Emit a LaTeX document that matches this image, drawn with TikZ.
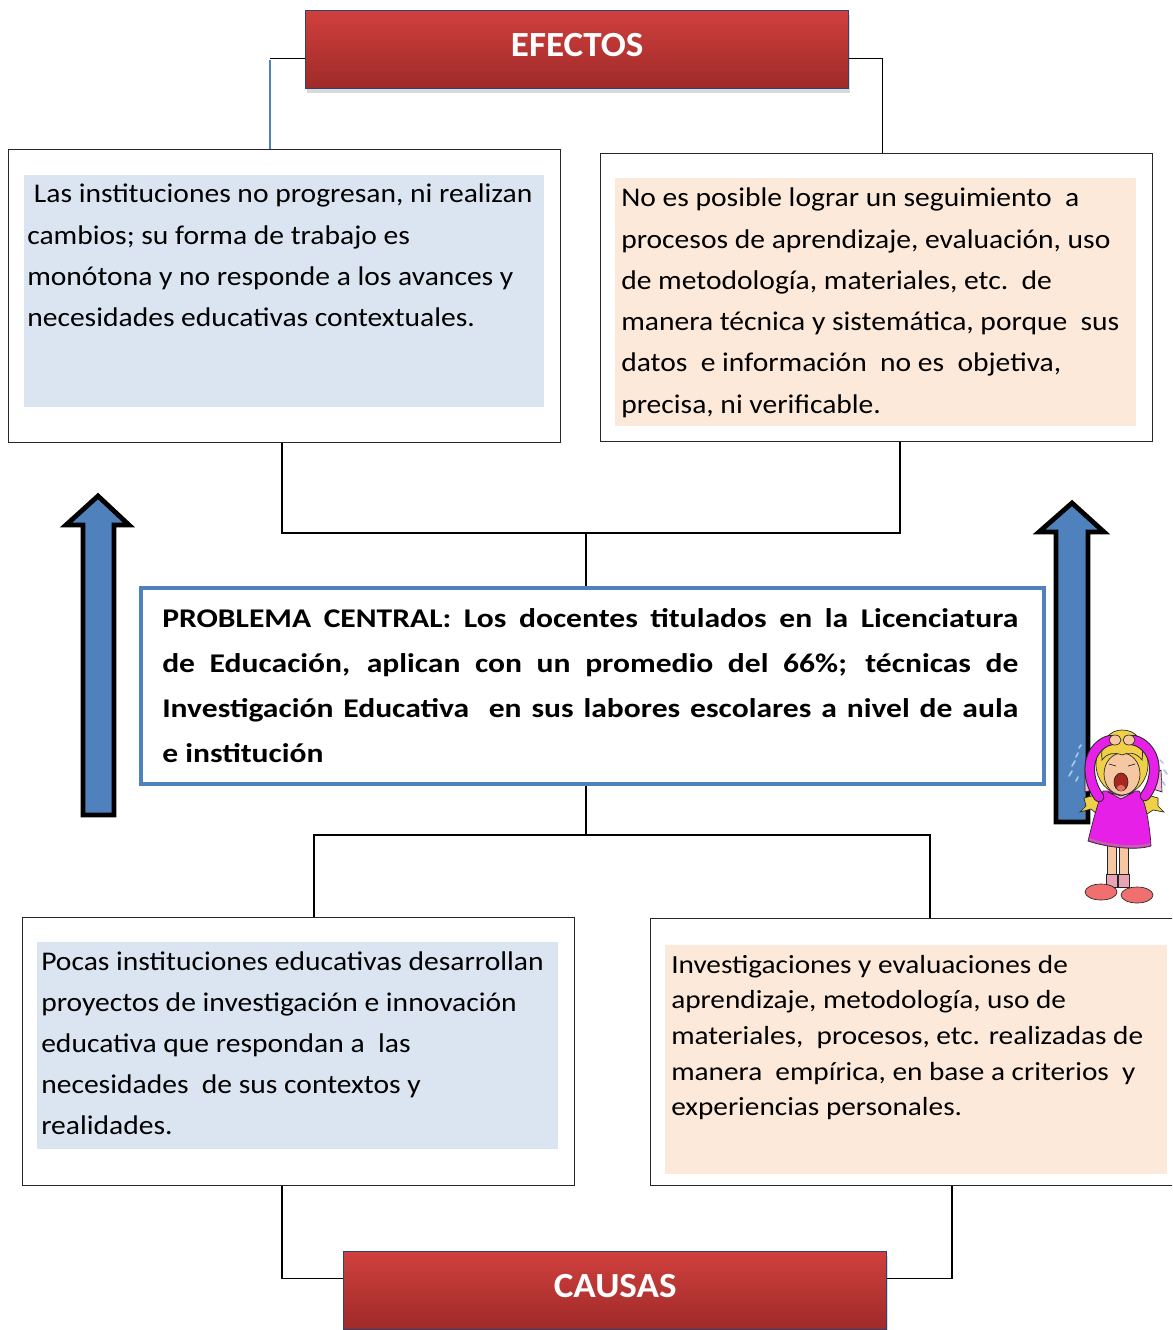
\documentclass[tikz,border=0pt]{standalone}
\usepackage{fontspec}
\setmainfont{Carlito}
\newfontfamily\bodyfont{Carlito}[FakeStretch=1.095]
\newfontfamily\causefont{Carlito}[FakeStretch=1.12]
\newfontfamily\probfont{Carlito}[FakeStretch=1.17]
\newfontfamily\hdrfont{Carlito}[FakeStretch=1.05]
\usetikzlibrary{shadows,calc}

\definecolor{hdrtop}{HTML}{D0403D}
\definecolor{hdrbot}{HTML}{9E2A29}
\definecolor{hdrline}{HTML}{2B4570}
\definecolor{bluefill}{HTML}{DBE5F1}
\definecolor{peachfill}{HTML}{FDE9D9}
\definecolor{probline}{HTML}{4F81BD}
\definecolor{arrowfill}{HTML}{4F81BD}
\definecolor{linkblue}{HTML}{4F81BD}
\definecolor{skin}{HTML}{F6C8A2}
\definecolor{hairy}{HTML}{F0D048}
\definecolor{dress}{HTML}{E620E6}
\definecolor{hemrim}{HTML}{B86A9A}
\definecolor{bowpink}{HTML}{F4B8D8}
\definecolor{sock}{HTML}{E8A4B4}
\definecolor{shoe}{HTML}{F07070}
\definecolor{mouth}{HTML}{A8281E}
\definecolor{tongue}{HTML}{E07060}
\definecolor{tear}{HTML}{A8C8E8}

\begin{document}
\begin{tikzpicture}[x=0.75pt,y=-0.75pt,
  header/.style={draw=hdrline, line width=1pt, top color=hdrtop, bottom color=hdrbot,
    minimum width=543*0.75pt, minimum height=78*0.75pt, inner sep=0pt, anchor=north west,
    text=white, font=\fontsize{26.5}{30}\hdrfont\bfseries, text depth=7pt,
    drop shadow={opacity=0.3, shadow xshift=1pt, shadow yshift=-3pt}},
  outerbox/.style={draw=black!85, line width=0.9pt, fill=white, anchor=north west, inner sep=0pt},
  innerbox/.style={draw=none, anchor=north west, inner sep=0pt},
  txt/.style={anchor=base west, inner sep=0pt, align=left},
  conn/.style={draw=black, line width=1pt},
  bigarrow/.style={fill=arrowfill, draw=black, line width=3.6pt, line join=miter},
  girl/.style={draw=black!85, line width=0.5pt}
]
\useasboundingbox (0,0) rectangle (1172,1330);
\clip (0,0) rectangle (1172,1330);

% ---------- header: EFECTOS ----------
\node[header] (eff) at (305,10) {EFECTOS};

% ---------- effect boxes ----------
\node[outerbox, minimum width=552*0.75pt, minimum height=293*0.75pt] (e1) at (8,149) {};
\node[innerbox, fill=bluefill, minimum width=520*0.75pt, minimum height=232*0.75pt] (e1f) at (24,175) {};
\node[txt] (e1t) at (27,203) {\parbox[t]{420pt}{\fontsize{20.25}{30.8}\bodyfont
  \hspace*{5pt}Las instituciones no progresan, ni realizan\\
  cambios; su forma de trabajo es\\
  monótona y no responde a los avances y\\
  necesidades educativas contextuales.}};

\node[outerbox, minimum width=552*0.75pt, minimum height=288*0.75pt] (e2) at (600,153) {};
\node[innerbox, fill=peachfill, minimum width=521*0.75pt, minimum height=248*0.75pt] (e2f) at (615,178) {};
\node[txt] (e2t) at (621,207) {\parbox[t]{420pt}{\fontsize{20.25}{30.9}\bodyfont
  No es posible lograr un seguimiento\ \ a\\
  procesos de aprendizaje, evaluación, uso\\
  de metodología, materiales, etc.\ \ de\\
  manera técnica y sistemática, porque\ \ sus\\
  datos\ \ e información\ \ no es\ \ objetiva,\\
  precisa, ni verificable.}};

% ---------- central problem ----------
\node[draw=probline, line width=3pt, fill=white, anchor=north west, inner sep=0pt,
      minimum width=903*0.75pt, minimum height=196*0.75pt] (prob) at (139,586) {};
\node[txt] (probt) at (162,627) {\parbox[t]{642pt}{\fontsize{20.25}{33.8}\probfont\bfseries
  \makebox[642pt][s]{PROBLEMA CENTRAL: Los docentes titulados en la Licenciatura}\\
  \makebox[642pt][s]{de Educación, aplican con un promedio del 66\%; técnicas de}\\
  \makebox[642pt][s]{Investigación Educativa\ \ en sus labores escolares a nivel de aula}\\
  e institución}};

% ---------- cause boxes ----------
\node[outerbox, minimum width=552*0.75pt, minimum height=268*0.75pt] (c1) at (22,917) {};
\node[innerbox, fill=bluefill, minimum width=521*0.75pt, minimum height=207*0.75pt] (c1f) at (37,942) {};
\node[txt] (c1t) at (41,970) {\parbox[t]{420pt}{\fontsize{20.25}{30.8}\bodyfont
  Pocas instituciones educativas desarrollan\\
  proyectos de investigación e innovación\\
  educativa que respondan a\ \ las\\
  necesidades\ \ de sus contextos y\\
  realidades.}};

\node[outerbox, minimum width=540*0.75pt, minimum height=267*0.75pt] (c2) at (650,918) {};
\node[innerbox, fill=peachfill, minimum width=502*0.75pt, minimum height=229*0.75pt] (c2f) at (665,945) {};
\node[txt] (c2t) at (671,973) {\parbox[t]{420pt}{\fontsize{19.6}{26.8}\causefont
  Investigaciones y evaluaciones de\\
  aprendizaje, metodología, uso de\\
  materiales,\ \ procesos, etc. realizadas de\\
  manera\ \ empírica, en base a criterios\ \ y\\
  experiencias personales.}};

% ---------- header: CAUSAS ----------
\node[header] (cau) at (343,1251) {CAUSAS};

% ---------- connectors: effects ----------
\coordinate (efl) at ($(eff.west)+(-35,9)$);
\coordinate (efr) at ($(eff.east)+(33,9)$);
\draw[conn] (eff.west |- efl) -- (efl);
\draw[draw=linkblue, line width=1pt] ($(efl)+(0,1)$) -- (efl |- e1.north);
\draw[conn] (eff.east |- efr) -- (efr) -- (efr |- e2.north);

\coordinate (ja) at ($(e1.south west)+(274,0)$);
\coordinate (jb) at ($(e2.south west)+(300,0)$);
\coordinate (tbar) at ($(prob.north)+(-6.5,-53)$);
\draw[conn] (ja) -- (ja |- tbar) -- (jb |- tbar) -- (jb);
\draw[conn] (tbar) -- (tbar |- prob.north);

% ---------- connectors: causes ----------
\coordinate (bbar) at ($(prob.south)+(-6.5,49)$);
\coordinate (ka) at ($(c1.north west)+(292,0)$);
\coordinate (kb) at ($(c2.north west)+(280,0)$);
\draw[conn] (prob.south -| bbar) -- (bbar);
\draw[conn] (ka) -- (ka |- bbar) -- (kb |- bbar) -- (kb);

\coordinate (ma) at ($(c1.south west)+(260,0)$);
\coordinate (mb) at ($(c2.south west)+(302,0)$);
\coordinate (cl) at ($(cau.west)+(0,-12)$);
\coordinate (cr) at ($(cau.east)+(0,-12)$);
\draw[conn] (ma) -- (ma |- cl) -- (cl);
\draw[conn] (mb) -- (mb |- cr) -- (cr);

% ---------- block arrows ----------
\draw[bigarrow] (83,815) -- (83,525) -- (66,525) -- (98,496) -- (129,525) -- (114,525) -- (114,815) -- cycle;
\draw[bigarrow] (1056,822) -- (1056,532) -- (1039,532) -- (1072,503) -- (1104,532) -- (1088,532) -- (1088,822) -- cycle;

% ---------- crying girl ----------
\begin{scope}[girl]
  % bows and pigtails
  \filldraw[fill=bowpink] (1094,778) -- (1085,773) -- (1085,792) -- (1096,789) -- cycle;
  \filldraw[fill=bowpink] (1150,776) -- (1161,770) -- (1162,792) -- (1150,788) -- cycle;
  \filldraw[fill=hairy] (1099,794) -- (1084,798) -- (1086,806) -- (1080,812) -- (1091,809) -- (1097,814) -- (1101,803) -- cycle;
  \filldraw[fill=hairy] (1144,794) -- (1158,798) -- (1158,806) -- (1164,812) -- (1153,810) -- (1147,814) -- (1143,803) -- cycle;
  % legs, socks, shoes
  \filldraw[fill=skin] (1107,842) rectangle (1116,878);
  \filldraw[fill=skin] (1119,844) rectangle (1128,878);
  \filldraw[fill=sock] (1106,874) rectangle (1117,887);
  \filldraw[fill=sock] (1118,874) rectangle (1129,887);
  \filldraw[fill=shoe] (1101,892) ellipse [x radius=16, y radius=8];
  \filldraw[fill=shoe] (1137,895) ellipse [x radius=16, y radius=8];
  % dress
  \filldraw[fill=dress] (1103,791) -- (1139,791) .. controls (1146,802) and (1150,828) .. (1151,846)
    .. controls (1135,851) and (1105,847) .. (1088,841) .. controls (1092,825) and (1097,804) .. cycle;
  \draw[draw=hemrim, line width=1.5pt] (1089,839) .. controls (1105,845) and (1135,849) .. (1150,844);
  % hair behind the head
  \filldraw[fill=hairy] (1122,764) ellipse [x radius=26, y radius=30];
  % face
  \filldraw[fill=skin] (1122,774) ellipse [x radius=18, y radius=21];
  % fringe
  \filldraw[fill=hairy] (1102,760) .. controls (1100,740) and (1110,730) .. (1122,730)
    .. controls (1136,730) and (1145,740) .. (1142,760) .. controls (1136,752) and (1128,752) .. (1122,755)
    .. controls (1115,752) and (1107,753) .. cycle;
  % squeezed eyes
  \draw (1109,764) -- (1116,766);
  \draw (1135,764) -- (1128,766);
  % open mouth
  \filldraw[fill=mouth] (1121,782) ellipse [x radius=7, y radius=9];
  \fill[tongue] (1121,788) ellipse [x radius=4, y radius=3];
  % collar
  \filldraw[fill=bowpink] (1108,792) -- (1121,799) -- (1134,792) -- (1121,796) -- cycle;
\end{scope}
% raised arms, hands on the head
\begin{scope}[line cap=round, line join=round]
  \draw[black!85, line width=8pt] (1099,797) .. controls (1088,782) and (1087,762) .. (1095,751)
    .. controls (1099,745) and (1105,741) .. (1111,740);
  \draw[dress, line width=6.5pt] (1099,797) .. controls (1088,782) and (1087,762) .. (1095,751)
    .. controls (1099,745) and (1105,741) .. (1111,740);
  \draw[black!85, line width=8pt] (1145,796) .. controls (1156,782) and (1157,762) .. (1149,751)
    .. controls (1145,745) and (1139,741) .. (1133,740);
  \draw[dress, line width=6.5pt] (1145,796) .. controls (1156,782) and (1157,762) .. (1149,751)
    .. controls (1145,745) and (1139,741) .. (1133,740);
  \filldraw[fill=skin, draw=black!85, line width=0.5pt] (1115,740) ellipse [x radius=6, y radius=5];
  \filldraw[fill=skin, draw=black!85, line width=0.5pt] (1129,740) ellipse [x radius=6, y radius=5];
\end{scope}
% tears
\begin{scope}[draw=tear, line width=1.3pt, line cap=round]
  \draw (1079,748) -- (1081,745);
  \draw (1076,757) -- (1078,753);
  \draw (1072,766) -- (1075,761);
  \draw (1069,776) -- (1072,771);
  \draw (1076,781) -- (1078,777);
  \draw (1160,760) -- (1163,763);
  \draw (1164,770) -- (1167,774);
  \draw (1162,781) -- (1165,785);
\end{scope}

\end{tikzpicture}
\end{document}
